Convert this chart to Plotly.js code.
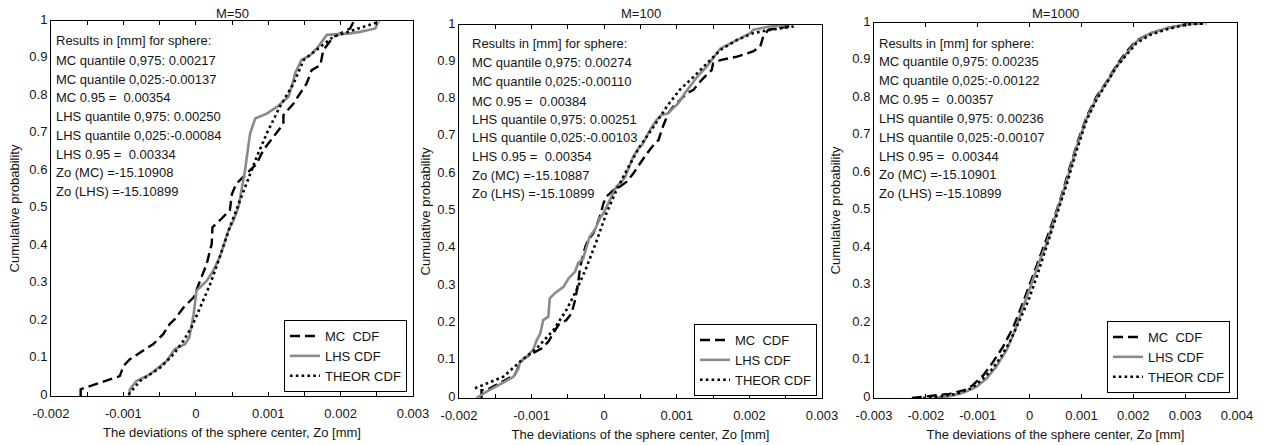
<!DOCTYPE html>
<html>
<head>
<meta charset="utf-8">
<script src="https://cdn.plot.ly/plotly-3.0.1.min.js"></script>
<style>html,body{margin:0;padding:0;background:#fff;}#chart{width:1266px;height:445px;}</style>
</head>
<body>
<div id="chart"></div>
<script>
// ---------------- DATA ----------------
const panelTitles = ['M=50', 'M=100', 'M=1000'];
const seriesNames = ['MC\u00a0 CDF', 'LHS CDF', 'THEOR CDF'];

// M=50
const mc50_x = [-0.00159,-0.00159,-0.00105,-0.00100,-0.00091,-0.00059,-0.00045,-0.00036,-0.00029,-0.00017,-0.00003,0.00006,0.00015,0.00022,0.00023,0.00033,0.00047,0.00050,0.00056,0.00070,0.00084,0.00093,0.00107,0.00121,0.00121,0.00135,0.00144,0.00153,0.00160,0.00172,0.00176,0.00190,0.00213,0.00218];
const mc50_y = [0.000,0.018,0.053,0.080,0.098,0.138,0.165,0.192,0.205,0.236,0.263,0.307,0.352,0.406,0.450,0.468,0.495,0.539,0.566,0.593,0.619,0.655,0.691,0.726,0.749,0.780,0.807,0.833,0.869,0.882,0.922,0.958,0.980,0.998];
const lhs50_x = [-0.00092,-0.00091,-0.00082,-0.00063,-0.00040,-0.00029,-0.00015,-0.00009,-0.00003,0.00001,0.00015,0.00024,0.00033,0.00045,0.00052,0.00059,0.00063,0.00068,0.00073,0.00075,0.00082,0.00098,0.00112,0.00128,0.00135,0.00137,0.00146,0.00158,0.00169,0.00181,0.00213,0.00227,0.00248,0.00252];
const lhs50_y = [0.000,0.018,0.040,0.058,0.094,0.125,0.138,0.156,0.218,0.281,0.307,0.334,0.370,0.441,0.468,0.504,0.548,0.602,0.673,0.700,0.740,0.753,0.771,0.798,0.842,0.860,0.896,0.909,0.931,0.963,0.967,0.971,0.980,0.998];
const theor50_x = [-0.00093,-0.00077,-0.00049,-0.00031,-0.00017,-0.00006,0.00006,0.00020,0.00033,0.00047,0.00061,0.00073,0.00084,0.00098,0.00116,0.00135,0.00149,0.00172,0.00190,0.00218,0.00254];
const theor50_y = [0.004,0.040,0.076,0.111,0.147,0.183,0.236,0.299,0.370,0.450,0.521,0.584,0.637,0.700,0.771,0.833,0.896,0.931,0.958,0.976,0.998];

// M=100
const mc100_x = [-0.00169,-0.00169,-0.00162,-0.00139,-0.00123,-0.00116,-0.00111,-0.00098,-0.00086,-0.00077,-0.00068,-0.00063,-0.00052,-0.00045,-0.00040,-0.00036,-0.00033,-0.00029,-0.00026,-0.00022,-0.00015,-0.00006,-0.00001,0.00003,0.00013,0.00022,0.00031,0.00040,0.00049,0.00059,0.00068,0.00075,0.00079,0.00084,0.00088,0.00095,0.00104,0.00114,0.00123,0.00132,0.00141,0.00148,0.00150,0.00160,0.00183,0.00205,0.00215,0.00219,0.00226,0.00256];
const mc100_y = [0.000,0.021,0.021,0.044,0.062,0.093,0.106,0.120,0.133,0.151,0.182,0.196,0.209,0.227,0.263,0.307,0.352,0.379,0.406,0.424,0.441,0.486,0.522,0.540,0.558,0.567,0.580,0.602,0.629,0.656,0.678,0.692,0.718,0.745,0.763,0.781,0.799,0.817,0.826,0.848,0.866,0.879,0.897,0.906,0.915,0.929,0.942,0.969,0.987,0.997];
const lhs100_x = [-0.00176,-0.00162,-0.00141,-0.00125,-0.00118,-0.00116,-0.00107,-0.00098,-0.00093,-0.00088,-0.00084,-0.00077,-0.00075,-0.00068,-0.00056,-0.00049,-0.00040,-0.00036,-0.00029,-0.00024,-0.00020,-0.00013,-0.00006,-0.00001,0.00003,0.00010,0.00017,0.00024,0.00029,0.00033,0.00040,0.00047,0.00052,0.00063,0.00072,0.00079,0.00088,0.00095,0.00102,0.00111,0.00118,0.00130,0.00141,0.00150,0.00160,0.00178,0.00201,0.00205,0.00228,0.00251];
const lhs100_y = [0.000,0.017,0.039,0.057,0.080,0.097,0.111,0.129,0.155,0.173,0.209,0.218,0.267,0.281,0.298,0.321,0.339,0.361,0.374,0.406,0.433,0.450,0.482,0.495,0.513,0.540,0.567,0.580,0.593,0.611,0.647,0.669,0.678,0.718,0.745,0.759,0.763,0.777,0.790,0.817,0.835,0.866,0.888,0.911,0.937,0.955,0.978,0.987,0.996,0.999];
const theor100_x = [-0.00178,-0.00162,-0.00139,-0.00116,-0.00093,-0.00070,-0.00052,-0.00038,-0.00024,-0.00010,0.00003,0.00017,0.00031,0.00049,0.00068,0.00086,0.00104,0.00123,0.00141,0.00160,0.00183,0.00205,0.00228,0.00261];
const theor100_y = [0.026,0.039,0.057,0.097,0.133,0.182,0.236,0.290,0.352,0.424,0.495,0.558,0.611,0.674,0.727,0.781,0.826,0.861,0.897,0.933,0.960,0.978,0.987,0.996];

// M=1000
const mc1000_x = [-0.00227,-0.00199,-0.00154,-0.00121,-0.00109,-0.00089,-0.00070,-0.00051,-0.00031,-0.00012,0.00004,0.00020,0.00039,0.00059,0.00078,0.00094,0.00110,0.00129,0.00149,0.00168,0.00187,0.00206,0.00232,0.00264,0.00303,0.00335];
const mc1000_y = [0.000,0.004,0.011,0.023,0.035,0.061,0.097,0.137,0.190,0.257,0.315,0.377,0.448,0.528,0.617,0.688,0.750,0.804,0.844,0.888,0.924,0.953,0.972,0.986,0.997,0.999];
const lhs1000_x = [-0.00186,-0.00154,-0.00128,-0.00102,-0.00083,-0.00064,-0.00044,-0.00028,-0.00012,0.00004,0.00020,0.00033,0.00052,0.00072,0.00091,0.00110,0.00129,0.00149,0.00168,0.00187,0.00206,0.00232,0.00264,0.00303,0.00329];
const lhs1000_y = [0.000,0.005,0.014,0.030,0.052,0.084,0.128,0.181,0.244,0.306,0.368,0.412,0.492,0.581,0.670,0.746,0.799,0.844,0.884,0.919,0.950,0.972,0.986,0.997,0.999];
const theor1000_x = [-0.00205,-0.00173,-0.00141,-0.00112,-0.00096,-0.00076,-0.00057,-0.00038,-0.00019,-0.00002,0.00014,0.00033,0.00052,0.00072,0.00091,0.00110,0.00129,0.00149,0.00168,0.00187,0.00206,0.00232,0.00264,0.00303,0.00341];
const theor1000_y = [0.000,0.004,0.011,0.026,0.044,0.070,0.106,0.150,0.208,0.261,0.324,0.404,0.484,0.572,0.661,0.741,0.795,0.839,0.884,0.915,0.946,0.968,0.983,0.996,0.999];

// Text boxes
const notes50 = ['Results in [mm] for sphere:','MC quantile 0,975: 0.00217','MC quantile 0,025:-0.00137','MC 0.95 =  0.00354','LHS quantile 0,975: 0.00250','LHS quantile 0,025:-0.00084','LHS 0.95 =  0.00334','Zo (MC) =-15.10908','Zo (LHS) =-15.10899'];
const notes100 = ['Results in [mm] for sphere:','MC quantile 0,975: 0.00274','MC quantile 0,025:-0.00110','MC 0.95 =  0.00384','LHS quantile 0,975: 0.00251','LHS quantile 0,025:-0.00103','LHS 0.95 =  0.00354','Zo (MC) =-15.10887','Zo (LHS) =-15.10899'];
const notes1000 = ['Results in [mm] for sphere:','MC quantile 0,975: 0.00235','MC quantile 0,025:-0.00122','MC 0.95 =  0.00357','LHS quantile 0,975: 0.00236','LHS quantile 0,025:-0.00107','LHS 0.95 =  0.00344','Zo (MC) =-15.10901','Zo (LHS) =-15.10899'];

// Axis ticks
const xTickVals12 = [-0.002,-0.0015,-0.001,-0.0005,0,0.0005,0.001,0.0015,0.002,0.0025,0.003];
const xTickText12 = ['-0.002','','-0.001','','0','','0.001','','0.002','','0.003'];
const xTickVals3 = [-0.003,-0.002,-0.001,0,0.001,0.002,0.003,0.004];
const xTickText3 = ['-0.003','-0.002','-0.001','0','0.001','0.002','0.003','0.004'];
const yTickVals = [0,0.1,0.2,0.3,0.4,0.5,0.6,0.7,0.8,0.9,1];
const yTickText = ['0','0.1','0.2','0.3','0.4','0.5','0.6','0.7','0.8','0.9','1'];
const xTitle = 'The deviations of the sphere center, Zo [mm]';
const yTitle = 'Cumulative probability';

// ---------------- LAYOUT ----------------
const W = 1266, H = 445;
const FONT = '"Liberation Sans", Arial, sans-serif';
const TXT = '#151515';

const panels = [
  {mc:[mc50_x,mc50_y], lhs:[lhs50_x,lhs50_y], th:[theor50_x,theor50_y], notes:notes50,
   px:[51,413], py:[21,396], xr:[-0.002,0.003], tv:xTickVals12, tt:xTickText12, noteX:54, noteY:[41,60,79,97,116,135,154,172,191], leg:[407,392], ystand:6},
  {mc:[mc100_x,mc100_y], lhs:[lhs100_x,lhs100_y], th:[theor100_x,theor100_y], notes:notes100,
   px:[459,822], py:[25,398], xr:[-0.002,0.003], tv:xTickVals12, tt:xTickText12, noteX:470, noteY:[43,63,82,102,119,137,157,176,193], leg:[817,396], ystand:3},
  {mc:[mc1000_x,mc1000_y], lhs:[lhs1000_x,lhs1000_y], th:[theor1000_x,theor1000_y], notes:notes1000,
   px:[874,1237], py:[23,398], xr:[-0.003,0.004], tv:xTickVals3, tt:xTickText3, noteX:877, noteY:[43,62,80,99,118,137,156,174,193], leg:[1230,393], ystand:8}
];

const traces = [];
const layout = {
  width: W, height: H,
  margin: {l:0, r:0, t:0, b:0},
  paper_bgcolor: '#fff', plot_bgcolor: '#fff',
  font: {family: FONT, size: 13, color: TXT},
  annotations: [],
  showlegend: true
};

panels.forEach((p, i) => {
  const n = i === 0 ? '' : String(i + 1);
  const xa = 'x' + n, ya = 'y' + n;
  const lg = 'legend' + n;
  const style = [
    {color:'#000', width:2.4, dash:'10px,5px'},
    {color:'#8a8a8a', width:2.6, dash:'solid'},
    {color:'#000', width:2.6, dash:'2.6px,3.2px'}
  ];
  [p.mc, p.lhs, p.th].forEach((d, k) => {
    traces.push({
      type:'scatter', mode:'lines', x:d[0], y:d[1], xaxis:xa, yaxis:ya,
      name: seriesNames[k], legend: lg, line: style[k], hoverinfo:'skip'
    });
  });
  layout['xaxis' + n] = {
    domain:[p.px[0]/W, p.px[1]/W], anchor: ya, range:p.xr,
    tickmode:'array', tickvals:p.tv, ticktext:p.tt,
    ticks:'inside', ticklen:4, tickwidth:1, tickcolor:'#000',
    showline:true, linecolor:'#000', linewidth:1, mirror:'ticks',
    showgrid:false, zeroline:false,
    tickfont:{size:13, color:TXT, family:FONT}, ticklabelstandoff:5,
    title:{text:xTitle, font:{size:13, color:TXT, family:FONT}, standoff:8},
    automargin:false
  };
  layout['yaxis' + n] = {
    domain:[1 - p.py[1]/H, 1 - p.py[0]/H], anchor: xa, range:[0,1],
    tickmode:'array', tickvals:yTickVals, ticktext:yTickText,
    ticks:'', showline:true, linecolor:'#000', linewidth:1, mirror:true,
    showgrid:false, zeroline:false, ticklabelshift:-2,
    tickfont:{size:13, color:TXT, family:FONT},
    title:{text:yTitle, font:{size:13, color:TXT, family:FONT}, standoff:p.ystand},
    automargin:false
  };
  layout[lg] = {
    x: p.leg[0]/W, y: 1 - p.leg[1]/H, xanchor:'right', yanchor:'bottom',
    xref:'paper', yref:'paper',
    bgcolor:'#fff', bordercolor:'#000', borderwidth:1,
    font:{size:13, color:TXT, family:FONT}, tracegroupgap:0, itemwidth:30
  };
  layout.annotations.push({
    xref:'paper', yref:'paper', x:(p.px[0]+p.px[1])/2/W, y:1 - 14/H,
    xanchor:'center', yanchor:'middle', showarrow:false,
    text:panelTitles[i], font:{size:13, color:TXT, family:FONT}
  });
  p.notes.forEach((t, j) => {
    layout.annotations.push({
      xref:'paper', yref:'paper', x:p.noteX/W, y:1 - p.noteY[j]/H,
      xanchor:'left', yanchor:'middle', showarrow:false,
      text:t.replace(/  /g, ' \u00a0'), font:{size:13, color:TXT, family:FONT}
    });
  });
});

Plotly.newPlot('chart', traces, layout, {displayModeBar:false, staticPlot:true});
</script>
</body>
</html>
